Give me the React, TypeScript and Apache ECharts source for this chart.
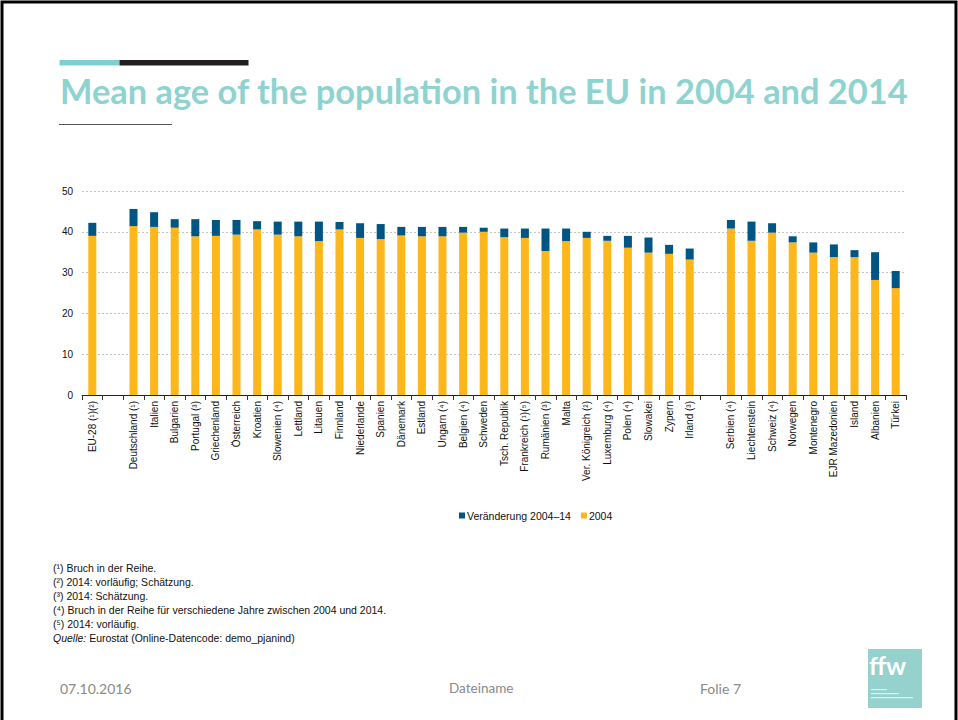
import React, { useEffect, useRef } from "react";
import * as echarts from "echarts";

const categories: string[] = [
  "EU-28 (¹)(²)", "", "Deutschland (¹)", "Italien", "Bulgarien", "Portugal (³)", "Griechenland",
  "Österreich", "Kroatien", "Slowenien (⁴)", "Lettland", "Litauen", "Finnland", "Niederlande",
  "Spanien", "Dänemark", "Estland", "Ungarn (⁴)", "Belgien (⁴)", "Schweden", "Tsch. Republik",
  "Frankreich (¹)(⁵)", "Rumänien (³)", "Malta", "Ver. Königreich (²)", "Luxemburg (⁴)", "Polen (⁴)",
  "Slowakei", "Zypern", "Irland (³)", "", "Serbien (⁴)", "Liechtenstein", "Schweiz (⁴)",
  "Norwegen", "Montenegro", "EJR Mazedonien", "Island", "Albanien", "Türkei",
];

const values2004: (number | null)[] = [
  39.0, null, 41.4, 41.2, 41.0, 38.9, 39.0, 39.3, 40.6, 39.3, 38.9, 37.7, 40.6, 38.5,
  38.2, 39.1, 38.9, 38.9, 39.8, 40.0, 38.7, 38.5, 35.3, 37.7, 38.5, 37.8, 36.1,
  34.9, 34.6, 33.2, null, 40.8, 37.8, 39.8, 37.4, 34.9, 33.8, 33.8, 28.2, 26.2,
];

const values2014: (number | null)[] = [
  42.2, null, 45.6, 44.8, 43.1, 43.1, 42.9, 42.9, 42.6, 42.5, 42.5, 42.5, 42.4, 42.1,
  41.9, 41.2, 41.2, 41.2, 41.2, 41.0, 40.8, 40.8, 40.8, 40.8, 40.0, 39.0, 39.0,
  38.6, 36.8, 35.9, null, 42.9, 42.5, 42.1, 38.9, 37.4, 36.9, 35.5, 35.0, 30.4,
];

const yTicks: number[] = [0, 10, 20, 30, 40, 50];

const footnotes: string[] = [
  "(¹) Bruch in der Reihe.",
  "(²) 2014: vorläufig; Schätzung.",
  "(³) 2014: Schätzung.",
  "(⁴) Bruch in der Reihe für verschiedene Jahre zwischen 2004 und 2014.",
  "(⁵) 2014: vorläufig.",
];

const SERIES_CHANGE = "Veränderung 2004–14";
const SERIES_2004 = "2004";

export default function App() {
  const ref = useRef<HTMLDivElement>(null);
  useEffect(() => {
    if (!ref.current) return;
    const chart = echarts.init(ref.current, undefined, { renderer: "svg" });
    const change = values2004.map((v, i) => {
      const w = values2014[i];
      return v == null || w == null ? null : Math.round((w - v) * 10) / 10;
    });
    const footGraphics: any[] = footnotes.map((t, i) => ({
      type: "text",
      left: 53,
      top: 562 + i * 14,
      style: { text: t, fontFamily: "Liberation Sans, Arial", fontSize: 10.5, fill: "#111" },
    }));
    footGraphics.push({
      type: "text",
      left: 53,
      top: 562 + 5 * 14,
      style: {
        text: "{i|Quelle:} Eurostat (Online-Datencode: demo_pjanind)",
        fontFamily: "Liberation Sans, Arial",
        fontSize: 10.5,
        fill: "#111",
        rich: { i: { fontStyle: "italic", fontFamily: "Liberation Sans, Arial", fontSize: 10.5, fill: "#111" } },
      },
    });
    const option: any = {
      animation: false,
      backgroundColor: "#fff",
      grid: { left: 82, right: 52, top: 191, bottom: 325, containLabel: false },
      legend: {
        data: [
          { name: SERIES_CHANGE, itemStyle: { color: "#005582" } },
          { name: SERIES_2004, itemStyle: { color: "#FDB71A" } },
        ],
        left: 454,
        top: 505,
        icon: "rect",
        itemWidth: 6,
        itemHeight: 6,
        itemGap: 10,
        textStyle: { fontFamily: "Liberation Sans, Arial", fontSize: 10.5, color: "#111", padding: [0, 0, 0, -3] },
      },
      xAxis: {
        type: "category",
        data: categories,
        axisLine: { lineStyle: { color: "#222", width: 1 } },
        axisTick: { show: true, interval: 0, length: 5, lineStyle: { color: "#333" } },
        axisLabel: {
          interval: 0,
          rotate: 90,
          margin: 6,
          fontFamily: "Liberation Sans, Arial",
          fontSize: 10,
          color: "#111",
        },
      },
      yAxis: {
        type: "value",
        min: yTicks[0],
        max: yTicks[yTicks.length - 1],
        interval: 10,
        axisLine: { show: false },
        axisTick: { show: false },
        axisLabel: { fontFamily: "Liberation Sans, Arial", fontSize: 10, color: "#111", margin: 9 },
        splitLine: { lineStyle: { color: "#c4c4c4", type: [2, 2], width: 1 } },
      },
      series: [
        {
          name: SERIES_2004,
          type: "bar",
          stack: "a",
          data: values2004,
          barWidth: 8,
          itemStyle: { color: "#FDB71A" },
        },
        {
          name: SERIES_CHANGE,
          type: "bar",
          stack: "a",
          data: change,
          barWidth: 8,
          itemStyle: { color: "#005582" },
        },
      ],
      graphic: [
        { type: "rect", shape: { x: 2, y: 2, width: 954, height: 740 }, style: { fill: "none", stroke: "#000", lineWidth: 3 }, silent: true },
        { type: "rect", shape: { x: 59.5, y: 60, width: 60, height: 5.5 }, style: { fill: "#7CCFD2" } },
        { type: "rect", shape: { x: 119.5, y: 60, width: 129, height: 5.5 }, style: { fill: "#231F20" } },
        {
          type: "text",
          left: 60,
          top: 73,
          style: {
            text: "Mean age of the population in the EU in 2004 and 2014",
            fontFamily: "Lato",
            fontWeight: "bold",
            fontSize: 34.4,
            fill: "#8ED3CF",
          },
        },
        { type: "line", shape: { x1: 59, y1: 124.5, x2: 172, y2: 124.5 }, style: { stroke: "#555", lineWidth: 1 } },
        ...footGraphics,
        { type: "text", left: 60, top: 681, style: { text: "07.10.2016", fontFamily: "Lato", fontSize: 14, fill: "#8a8a8a" } },
        { type: "text", left: 449, top: 681, style: { text: "Dateiname", fontFamily: "Lato", fontSize: 13.5, fill: "#8a8a8a" } },
        { type: "text", left: 700, top: 681, style: { text: "Folie 7", fontFamily: "Lato", fontSize: 14, fill: "#8a8a8a" } },
        { type: "rect", shape: { x: 868, y: 649, width: 54, height: 59 }, style: { fill: "#95D1CD" } },
        { type: "text", left: 869, top: 652, style: { text: "ffw", fontFamily: "Lato", fontWeight: "bold", fontSize: 25, fill: "#fff" } },
        { type: "rect", shape: { x: 871, y: 689, width: 16, height: 1.2 }, style: { fill: "rgba(255,255,255,0.7)" } },
        { type: "rect", shape: { x: 871, y: 693, width: 28, height: 1.2 }, style: { fill: "rgba(255,255,255,0.7)" } },
        { type: "rect", shape: { x: 871, y: 697, width: 42, height: 1.2 }, style: { fill: "rgba(255,255,255,0.7)" } },
      ],
    };
    chart.setOption(option);
    return () => chart.dispose();
  }, []);
  return (
    <div
      ref={ref}
      style={{ position: "absolute", left: 0, top: 0, width: 958, height: 720, background: "#fff" }}
    />
  );
}
